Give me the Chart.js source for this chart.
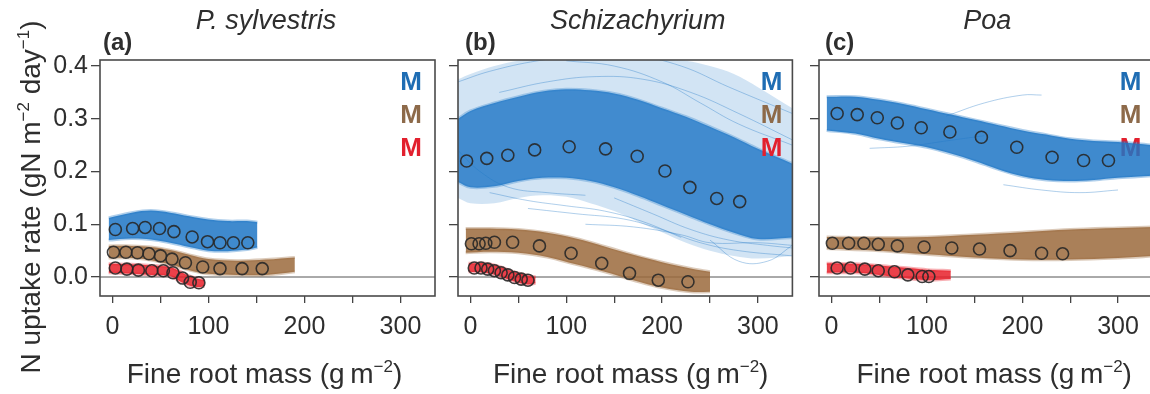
<!DOCTYPE html>
<html>
<head>
<meta charset="utf-8">
<script src="https://cdn.jsdelivr.net/npm/chart.js@4/dist/chart.umd.min.js"></script>
<style>
  html, body { margin: 0; padding: 0; background: #fff; overflow: hidden; }
  #wrap { position: relative; width: 1150px; height: 394px; overflow: hidden; }
  .cell { position: absolute; top: 0; }
</style>
</head>
<body>
<div id="wrap">
  <div class="cell" style="left:0px"><canvas id="pa" width="447" height="394"></canvas></div>
  <div class="cell" style="left:440px"><canvas id="pb" width="360" height="394"></canvas></div>
  <div class="cell" style="left:800px"><canvas id="pc" width="360" height="394"></canvas></div>
</div>
<script>
// ---- ticks ----
const xTickMarks = [0, 50, 100, 150, 200, 250, 300];
const xTickLabels = [0, 100, 200, 300];
const yTickLabels = [0.0, 0.1, 0.2, 0.3, 0.4];
const titles = ["P. sylvestris", "Schizachyrium", "Poa"];
const tags = ["(a)", "(b)", "(c)"];

// ---- (a) P. sylvestris ----
const aBlueMass = [3, 21, 34, 49, 64, 83, 99, 112, 126, 141];
const aBlueRate = [0.090, 0.092, 0.094, 0.092, 0.086, 0.076, 0.067, 0.065, 0.065, 0.065];
const aBrownMass = [1, 14, 26, 38, 50, 62, 76, 94, 112, 135, 156];
const aBrownRate = [0.047, 0.047, 0.046, 0.044, 0.040, 0.034, 0.027, 0.019, 0.016, 0.016, 0.016];
const aRedMass = [3, 15, 27, 41, 53, 63, 73, 81, 90];
const aRedRate = [0.017, 0.015, 0.013, 0.012, 0.012, 0.008, -0.002, -0.010, -0.011];

const aBlueBandMass = [-4, 20, 40, 60, 80, 100, 120, 140, 151];
const aBlueBandHi = [0.112, 0.122, 0.126, 0.122, 0.115, 0.109, 0.106, 0.106, 0.104];
const aBlueBandLo = [0.070, 0.073, 0.071, 0.065, 0.057, 0.050, 0.049, 0.052, 0.056];
const aBrownBandMass = [-4, 20, 40, 60, 80, 100, 130, 160, 190];
const aBrownBandHi = [0.059, 0.059, 0.057, 0.051, 0.042, 0.034, 0.031, 0.033, 0.037];
const aBrownBandLo = [0.036, 0.036, 0.032, 0.024, 0.013, 0.006, 0.004, 0.004, 0.010];
const aRedBandMass = [-4, 20, 40, 60, 70, 80, 90, 96];
const aRedBandHi = [0.025, 0.024, 0.022, 0.019, 0.011, 0.002, -0.004, -0.006];
const aRedBandLo = [0.008, 0.006, 0.004, 0.002, -0.008, -0.016, -0.019, -0.017];

// ---- (b) Schizachyrium ----
const bBlueMass = [-4, 17, 39, 67, 103, 141, 174, 203, 229, 257, 281];
const bBlueRate = [0.220, 0.225, 0.231, 0.241, 0.247, 0.243, 0.229, 0.201, 0.170, 0.149, 0.143];
const bBrownMass = [1, 9, 16, 25, 44, 72, 105, 137, 166, 196, 227];
const bBrownRate = [0.063, 0.063, 0.064, 0.066, 0.066, 0.059, 0.045, 0.026, 0.007, -0.006, -0.009];
const bRedMass = [4, 11, 18, 25, 32, 39, 46, 53, 60];
const bRedRate = [0.017, 0.017, 0.015, 0.012, 0.008, 0.004, -0.001, -0.004, -0.006];

const bBlueBandMass = [-13, 0, 25, 50, 75, 100, 125, 150, 175, 200, 225, 250, 275, 300, 336];
const bBlueBandHi = [0.300, 0.315, 0.330, 0.342, 0.352, 0.356, 0.354, 0.348, 0.336, 0.320, 0.304, 0.285, 0.265, 0.243, 0.215];
const bBlueBandLo = [0.180, 0.170, 0.172, 0.182, 0.188, 0.188, 0.182, 0.170, 0.154, 0.136, 0.118, 0.100, 0.084, 0.072, 0.075];
const bBlueOuterHi = [0.375, 0.385, 0.400, 0.410, 0.412, 0.412, 0.412, 0.412, 0.412, 0.412, 0.410, 0.400, 0.385, 0.360, 0.320];
const bBlueOuterLo = [0.150, 0.140, 0.140, 0.150, 0.155, 0.152, 0.140, 0.125, 0.105, 0.085, 0.065, 0.050, 0.040, 0.035, 0.040];
const bBrownBandMass = [-5, 20, 50, 80, 110, 140, 170, 200, 230, 250];
const bBrownBandHi = [0.092, 0.092, 0.090, 0.084, 0.073, 0.058, 0.042, 0.028, 0.016, 0.010];
const bBrownBandLo = [0.046, 0.048, 0.046, 0.038, 0.024, 0.010, -0.006, -0.020, -0.028, -0.028];
const bRedBandMass = [-2, 15, 30, 45, 60, 68];
const bRedBandHi = [0.026, 0.026, 0.020, 0.010, 0.003, 0.000];
const bRedBandLo = [0.010, 0.008, 0.002, -0.008, -0.014, -0.012];

// single stray runs visible outside the dense blue bundle
const bStray1Mass = [20, 60, 100, 140, 180, 220];
const bStray1Rate = [0.160, 0.145, 0.135, 0.125, 0.105, 0.075];
const bStray2Mass = [60, 110, 160, 200, 240, 280, 336];
const bStray2Rate = [0.130, 0.120, 0.110, 0.090, 0.065, 0.050, 0.040];
const bStray3Mass = [120, 170, 220, 250, 300, 336];
const bStray3Rate = [0.100, 0.095, 0.080, 0.065, 0.065, 0.060];
const bStray4Mass = [-13, 20, 70, 120, 170, 220, 270, 336];
const bStray4Rate = [0.370, 0.390, 0.410, 0.420, 0.420, 0.400, 0.360, 0.310];
const bStray5Mass = [30, 80, 130, 180, 230, 280, 336];
const bStray5Rate = [0.350, 0.370, 0.380, 0.375, 0.350, 0.310, 0.260];
const bStray6Mass = [250, 280, 310, 336];
const bStray6Rate = [0.070, 0.030, 0.030, 0.060];
const bStray7Mass = [-13, 10, 40, 80, 120];
const bStray7Rate = [0.240, 0.200, 0.170, 0.160, 0.155];
const bStray8Mass = [100, 150, 200, 240, 280, 336];
const bStray8Rate = [0.410, 0.400, 0.370, 0.330, 0.290, 0.250];
const bStray9Mass = [150, 190, 230, 270, 310, 336];
const bStray9Rate = [0.150, 0.120, 0.090, 0.070, 0.060, 0.055];

// ---- (c) Poa ----
const cBlueMass = [6, 27, 48, 69, 94, 124, 157, 194, 231, 264, 290];
const cBlueRate = [0.310, 0.308, 0.302, 0.292, 0.283, 0.275, 0.265, 0.246, 0.227, 0.221, 0.221];
const cBrownMass = [1, 18, 34, 49, 69, 97, 126, 155, 187, 220, 242];
const cBrownRate = [0.064, 0.064, 0.064, 0.062, 0.059, 0.057, 0.055, 0.053, 0.050, 0.045, 0.044];
const cRedMass = [6, 20, 35, 49, 66, 80, 95, 102];
const cRedRate = [0.017, 0.017, 0.015, 0.012, 0.010, 0.004, 0.001, 0.001];

const cBlueBandMass = [-5, 25, 50, 75, 100, 125, 150, 175, 200, 225, 250, 275, 300, 336];
const cBlueBandHi = [0.342, 0.342, 0.336, 0.328, 0.318, 0.308, 0.298, 0.288, 0.278, 0.270, 0.262, 0.258, 0.256, 0.250];
const cBlueBandLo = [0.278, 0.272, 0.262, 0.254, 0.246, 0.234, 0.220, 0.204, 0.191, 0.184, 0.182, 0.184, 0.188, 0.192];
const cBrownBandMass = [-5, 50, 100, 150, 200, 250, 300, 340];
const cBrownBandHi = [0.076, 0.075, 0.076, 0.080, 0.085, 0.090, 0.093, 0.095];
const cBrownBandLo = [0.054, 0.050, 0.043, 0.037, 0.033, 0.033, 0.036, 0.040];
const cRedBandMass = [-5, 25, 50, 75, 100, 125];
const cRedBandHi = [0.026, 0.025, 0.022, 0.018, 0.014, 0.012];
const cRedBandLo = [0.008, 0.008, 0.004, -0.002, -0.006, -0.004];

const cStray1Mass = [120, 160, 200, 220];
const cStray1Rate = [0.305, 0.330, 0.345, 0.345];
const cStray2Mass = [40, 80, 120, 160];
const cStray2Rate = [0.244, 0.248, 0.258, 0.268];
const cStray3Mass = [180, 220, 260, 300];
const cStray3Rate = [0.175, 0.165, 0.160, 0.165];

// ---- styles ----
const FONT = "'Liberation Sans', Arial, Helvetica, sans-serif";
const BLUE = "29,118,198", BROWN = "155,106,60", RED = "232,32,42";
const mColors = ["#1f6db3", "#8d6a4a", "#e2202e"];
const TEXT = "#2e2e2e";

function pts(xs, ys) { return xs.map((x, i) => ({ x, y: ys[i] })); }

function band(xs, hi, lo, rgb, alpha, order, edge) {
  const e = edge === undefined ? 0.35 : edge;
  const w = e > 0 ? 3 : 0;
  return [
    { data: pts(xs, hi), showLine: true, tension: 0.35, borderColor: `rgba(${rgb},${e})`, borderWidth: w, pointRadius: 0, fill: false, order },
    { data: pts(xs, lo), showLine: true, tension: 0.35, borderColor: `rgba(${rgb},${e})`, borderWidth: w, pointRadius: 0, fill: "-1", backgroundColor: `rgba(${rgb},${alpha})`, order }
  ];
}
function stray(xs, ys, rgb) {
  return { data: pts(xs, ys), showLine: true, tension: 0.4, borderColor: `rgba(${rgb},0.35)`, borderWidth: 1, pointRadius: 0, fill: false, order: 9 };
}
function dots(xs, ys) {
  return { data: pts(xs, ys), showLine: false, pointRadius: 6, pointBorderWidth: 1.6, pointBorderColor: "rgba(40,40,40,0.9)", pointBackgroundColor: "rgba(0,0,0,0)", order: 0 };
}

// rich text with superscripts, drawn centred on cx, baseline at by
function drawRich(ctx, parts, cx, by, size) {
  const big = `${size}px ${FONT}`, small = `${Math.round(size * 0.62)}px ${FONT}`;
  let w = 0;
  parts.forEach(p => { ctx.font = p[1] ? small : big; w += ctx.measureText(p[0]).width; });
  let x = cx - w / 2;
  ctx.textAlign = "left";
  ctx.textBaseline = "alphabetic";
  parts.forEach(p => {
    ctx.font = p[1] ? small : big;
    ctx.fillText(p[0], x, p[1] ? by - size * 0.4 : by);
    x += ctx.measureText(p[0]).width;
  });
}
const xTitle = [["Fine root mass (g\u2009m", 0], ["\u22122", 1], [")", 0]];
const yTitle = [["N uptake rate (gN m", 0], ["\u22122", 1], [" day", 0], ["\u22121", 1], [")", 0]];

function drawMs(chart, p) {
  const { ctx, chartArea: a } = chart;
  ctx.save();
  ctx.font = `bold 26px ${FONT}`;
  ctx.textAlign = "right";
  ctx.textBaseline = "middle";
  mColors.forEach((c, k) => { ctx.fillStyle = c; ctx.fillText("M", a.right - p.mInset, a.top + 23 + k * 33); });
  ctx.restore();
}

function panelPlugin(p) {
  return {
    id: "panel" + p.i,
    beforeDatasetsDraw(chart) {
      const { ctx, chartArea: a, scales } = chart;
      ctx.save();
      const y0 = scales.y.getPixelForValue(0);
      ctx.strokeStyle = "#555";
      ctx.lineWidth = 1;
      ctx.beginPath(); ctx.moveTo(a.left, y0); ctx.lineTo(a.right, y0); ctx.stroke();
      ctx.restore();
      if (!p.mOnTop) drawMs(chart, p);
    },
    afterDatasetsDraw(chart) {
      if (p.mOnTop) drawMs(chart, p);
    },
    afterDraw(chart) {
      const { ctx, chartArea: a } = chart;
      ctx.save();
      ctx.strokeStyle = "#4a4a4a";
      ctx.lineWidth = 1.6;
      ctx.strokeRect(a.left, a.top, a.right - a.left, a.bottom - a.top);
      const mid = (a.left + a.right) / 2;
      ctx.fillStyle = TEXT;
      ctx.textAlign = "center";
      ctx.textBaseline = "alphabetic";
      ctx.font = `italic 27px ${FONT}`;
      ctx.fillText(titles[p.i], mid + p.titleDx, 29);
      ctx.textAlign = "left";
      ctx.font = `bold 24px ${FONT}`;
      ctx.fillText(tags[p.i], a.left + p.tagDx, 50);
      drawRich(ctx, xTitle, mid + p.xTitleDx, 383, 28);
      if (p.i === 0) {
        ctx.translate(40, 197);
        ctx.rotate(-Math.PI / 2);
        drawRich(ctx, yTitle, 0, 0, 28);
      }
      ctx.restore();
    }
  };
}

function makeChart(p, datasets) {
  const tickFont = { family: FONT, size: 25 };
  return new Chart(document.getElementById(p.id), {
    type: "scatter",
    data: { datasets },
    options: {
      responsive: false,
      animation: false,
      events: [],
      layout: { padding: { left: 0, top: 60, right: p.padRight, bottom: 0 } },
      plugins: { legend: { display: false }, tooltip: { enabled: false }, title: { display: false } },
      scales: {
        x: {
          type: "linear", min: -13, max: 336,
          afterBuildTicks: s => { s.ticks = xTickMarks.map(v => ({ value: v })); },
          afterFit: s => { s.height = 98; },
          border: { display: false },
          grid: { drawOnChartArea: false, drawTicks: true, tickLength: 7, color: "#444", lineWidth: 1.3 },
          ticks: {
            autoSkip: false, maxRotation: 0, padding: 9,
            color: TEXT, font: tickFont,
            callback: v => (xTickLabels.includes(v) ? String(v) : "")
          }
        },
        y: {
          type: "linear", min: -0.036, max: 0.4115,
          afterBuildTicks: s => { s.ticks = yTickLabels.map(v => ({ value: v })); },
          afterFit: s => { s.width = p.yWidth; },
          border: { display: false },
          grid: { drawOnChartArea: false, drawTicks: true, tickLength: 9, color: "#444", lineWidth: 1.3 },
          ticks: {
            display: p.i === 0, padding: 3,
            color: TEXT, font: tickFont,
            callback: v => v.toFixed(1)
          }
        }
      }
    },
    plugins: [panelPlugin(p)]
  });
}

makeChart({ i: 0, id: "pa", yWidth: 100, padRight: 12, titleDx: -1.5, tagDx: 3, xTitleDx: -3, mInset: 13, mOnTop: true }, [
  dots(aBlueMass, aBlueRate),
  dots(aBrownMass, aBrownRate),
  dots(aRedMass, aRedRate),
  ...band(aBlueBandMass, aBlueBandHi, aBlueBandLo, BLUE, 0.85, 5),
  ...band(aBrownBandMass, aBrownBandHi, aBrownBandLo, BROWN, 0.85, 6),
  ...band(aRedBandMass, aRedBandHi, aRedBandLo, RED, 0.85, 4)
]);

makeChart({ i: 1, id: "pb", yWidth: 18, padRight: 7, titleDx: 12.5, tagDx: 7, xTitleDx: 5.5, mInset: 10, mOnTop: true }, [
  dots(bBlueMass, bBlueRate),
  dots(bBrownMass, bBrownRate),
  dots(bRedMass, bRedRate),
  ...band(bBlueBandMass, bBlueBandHi, bBlueBandLo, BLUE, 0.8, 5, 0.3),
  ...band(bBlueBandMass, bBlueOuterHi, bBlueOuterLo, BLUE, 0.2, 10, 0),
  stray(bStray1Mass, bStray1Rate, BLUE),
  stray(bStray2Mass, bStray2Rate, BLUE),
  stray(bStray3Mass, bStray3Rate, BLUE),
  stray(bStray4Mass, bStray4Rate, BLUE),
  stray(bStray5Mass, bStray5Rate, BLUE),
  stray(bStray6Mass, bStray6Rate, BLUE),
  stray(bStray7Mass, bStray7Rate, BLUE),
  stray(bStray8Mass, bStray8Rate, BLUE),
  stray(bStray9Mass, bStray9Rate, BLUE),
  ...band(bBrownBandMass, bBrownBandHi, bBrownBandLo, BROWN, 0.85, 4),
  ...band(bRedBandMass, bRedBandHi, bRedBandLo, RED, 0.85, 3)
]);

makeChart({ i: 2, id: "pc", yWidth: 19, padRight: 6, titleDx: 1.5, tagDx: 6, xTitleDx: 8.5, mInset: 11, mOnTop: false }, [
  dots(cBlueMass, cBlueRate),
  dots(cBrownMass, cBrownRate),
  dots(cRedMass, cRedRate),
  ...band(cBlueBandMass, cBlueBandHi, cBlueBandLo, BLUE, 0.85, 5),
  stray(cStray1Mass, cStray1Rate, BLUE),
  stray(cStray2Mass, cStray2Rate, BLUE),
  stray(cStray3Mass, cStray3Rate, BLUE),
  ...band(cBrownBandMass, cBrownBandHi, cBrownBandLo, BROWN, 0.85, 4),
  ...band(cRedBandMass, cRedBandHi, cRedBandLo, RED, 0.85, 3)
]);
</script>
</body>
</html>
